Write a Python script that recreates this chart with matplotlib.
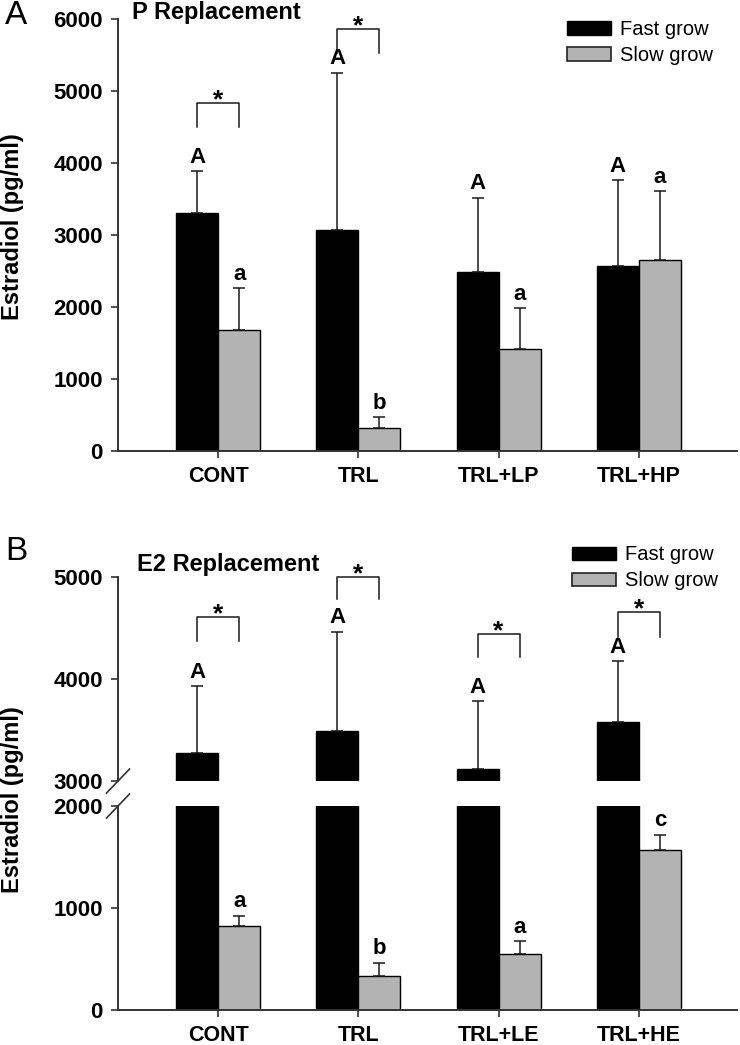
import matplotlib
matplotlib.use("Agg")
import matplotlib.pyplot as plt
from matplotlib.patches import Patch
import numpy as np

plt.rcParams['font.family'] = ['Liberation Sans', 'DejaVu Sans']

# panel A data (P replacement)
groups_a = ["CONT", "TRL", "TRL+LP", "TRL+HP"]
fast_a = [3310, 3070, 2490, 2570]
fast_a_err = [580, 2185, 1030, 1190]
slow_a = [1685, 320, 1420, 2650]
slow_a_err = [575, 150, 560, 960]
fast_a_letters = ["A", "A", "A", "A"]
slow_a_letters = ["a", "b", "a", "a"]
sig_a_groups = [0, 1]
sig_a_top = [4830, 5860]
sig_a_leg = [4500, 5530]

# panel B data (E2 replacement)
groups_b = ["CONT", "TRL", "TRL+LE", "TRL+HE"]
fast_b = [3270, 3490, 3115, 3575]
fast_b_err = [660, 975, 665, 600]
slow_b = [825, 335, 545, 1570]
slow_b_err = [100, 130, 130, 150]
fast_b_letters = ["A", "A", "A", "A"]
slow_b_letters = ["a", "b", "a", "c"]
sig_b_groups = [0, 1, 2, 3]
sig_b_top = [4610, 5000, 4440, 4655]
sig_b_leg = [4370, 4785, 4220, 4410]

GRAY = "#b3b3b3"
W = 0.3
ERR_KW = dict(ecolor="#1a1a1a", elinewidth=1.1, capsize=4.5, capthick=1.1)
SPINE = "#333333"
TICK_FS = 16


def style_axes(ax):
    for s in ["top", "right"]:
        ax.spines[s].set_visible(False)
    for s in ["left", "bottom"]:
        ax.spines[s].set_linewidth(1.4)
        ax.spines[s].set_color(SPINE)
    ax.tick_params(axis="both", direction="out", length=5, width=1.2, color=SPINE)
    ax.tick_params(axis="y", pad=6)
    ax.tick_params(axis="x", pad=6)
    ax.set_xlim(-0.713, 3.70)


def bars(ax, x, vals, errs, color):
    ax.bar(x, vals, W, color=color, edgecolor="black", linewidth=1,
           yerr=[np.zeros(len(vals)), errs], error_kw=ERR_KW, zorder=2)


def letters(ax, x, vals, errs, labels):
    for xi, v, e, t in zip(x, vals, errs, labels):
        ax.annotate(t, (xi, v + e), xytext=(0, 6), textcoords="offset points",
                    ha="center", va="baseline", fontsize=16, fontweight="bold",
                    annotation_clip=False)


def brackets(ax, idx, tops, legs):
    for i, t, l in zip(idx, tops, legs):
        ax.plot([i - W / 2, i - W / 2, i + W / 2, i + W / 2], [l, t, t, l],
                color="#1a1a1a", lw=1.1, clip_on=False)
        ax.annotate("*", (i, t), xytext=(0, -3), textcoords="offset points",
                    ha="center", va="baseline", fontsize=19, fontweight="bold",
                    annotation_clip=False)


def add_legend(ax, anchor):
    handles = [Patch(facecolor="black", edgecolor="black"),
               Patch(facecolor=GRAY, edgecolor="#222222", linewidth=1.2)]
    ax.legend(handles, ["Fast grow", "Slow grow"], loc="upper left",
              bbox_to_anchor=anchor, frameon=False, fontsize=14.5,
              handlelength=2.2, handleheight=0.65, handletextpad=0.45,
              labelspacing=0.35, borderpad=0, borderaxespad=0)


fig = plt.figure(figsize=(7.4, 10.45), dpi=100)

# ---- panel A ----
ax_a = fig.add_axes([0.1595, 0.5684, 0.8365, 0.4134])
x = np.arange(len(groups_a))
bars(ax_a, x - W / 2, fast_a, fast_a_err, "black")
bars(ax_a, x + W / 2, slow_a, slow_a_err, GRAY)
letters(ax_a, x - W / 2, fast_a, fast_a_err, fast_a_letters)
letters(ax_a, x + W / 2, slow_a, slow_a_err, slow_a_letters)
brackets(ax_a, sig_a_groups, sig_a_top, sig_a_leg)
style_axes(ax_a)
ax_a.set_ylim(0, 6000)
ax_a.set_yticks([0, 1000, 2000, 3000, 4000, 5000, 6000],
                ["0", "1000", "2000", "3000", "4000", "5000", "6000"],
                fontsize=TICK_FS, fontweight="bold")
ax_a.set_xticks(x, groups_a, fontsize=15.5, fontweight="bold")
add_legend(ax_a, (0.725, 0.998))

# ---- panel B (broken axis) ----
ax_bt = fig.add_axes([0.1595, 0.2526, 0.8365, 0.1952])
ax_bb = fig.add_axes([0.1595, 0.0335, 0.8365, 0.1952])
xb = np.arange(len(groups_b))

bars(ax_bt, xb - W / 2, fast_b, fast_b_err, "black")
letters(ax_bt, xb - W / 2, fast_b, fast_b_err, fast_b_letters)
brackets(ax_bt, sig_b_groups, sig_b_top, sig_b_leg)
style_axes(ax_bt)
ax_bt.spines["bottom"].set_visible(False)
ax_bt.set_ylim(3000, 5000)
ax_bt.set_yticks([3000, 4000, 5000], ["3000", "4000", "5000"],
                 fontsize=TICK_FS, fontweight="bold")
ax_bt.set_xticks([])
add_legend(ax_bt, (0.733, 1.155))

ax_bb.bar(xb - W / 2, fast_b, W, color="black", edgecolor="black", linewidth=1, zorder=2)
bars(ax_bb, xb + W / 2, slow_b, slow_b_err, GRAY)
letters(ax_bb, xb + W / 2, slow_b, slow_b_err, slow_b_letters)
style_axes(ax_bb)
ax_bb.set_ylim(0, 2000)
ax_bb.set_yticks([0, 1000, 2000], ["0", "1000", "2000"],
                 fontsize=TICK_FS, fontweight="bold")
ax_bb.set_xticks(xb, groups_b, fontsize=15.5, fontweight="bold")

# break marks on the left spine
dx, dy = 0.0186, 0.059
ax_bt.plot([-dx, dx], [-dy, dy], transform=ax_bt.transAxes, color=SPINE,
           lw=1.2, clip_on=False)
ax_bb.plot([-dx, dx], [1 - dy, 1 + dy], transform=ax_bb.transAxes, color=SPINE,
           lw=1.2, clip_on=False)

# titles, panel letters, y labels
fig.text(132 / 740, 1 - 12 / 1045, "P Replacement", fontsize=17,
         fontweight="bold", va="center", ha="left")
fig.text(137 / 740, 1 - 564 / 1045, "E2 Replacement", fontsize=17,
         fontweight="bold", va="center", ha="left")
fig.text(5 / 740, 1 - 16 / 1045, "A", fontsize=24, va="center", ha="left")
fig.text(5 / 740, 1 - 552 / 1045, "B", fontsize=24, va="center", ha="left")
fig.text(13 / 740, 1 - 227 / 1045, "Estradiol (pg/ml)", rotation=90,
         fontsize=17, fontweight="bold", va="center", ha="center")
fig.text(13 / 740, 1 - 800 / 1045, "Estradiol (pg/ml)", rotation=90,
         fontsize=17, fontweight="bold", va="center", ha="center")

fig.savefig("out.png", dpi=100)
